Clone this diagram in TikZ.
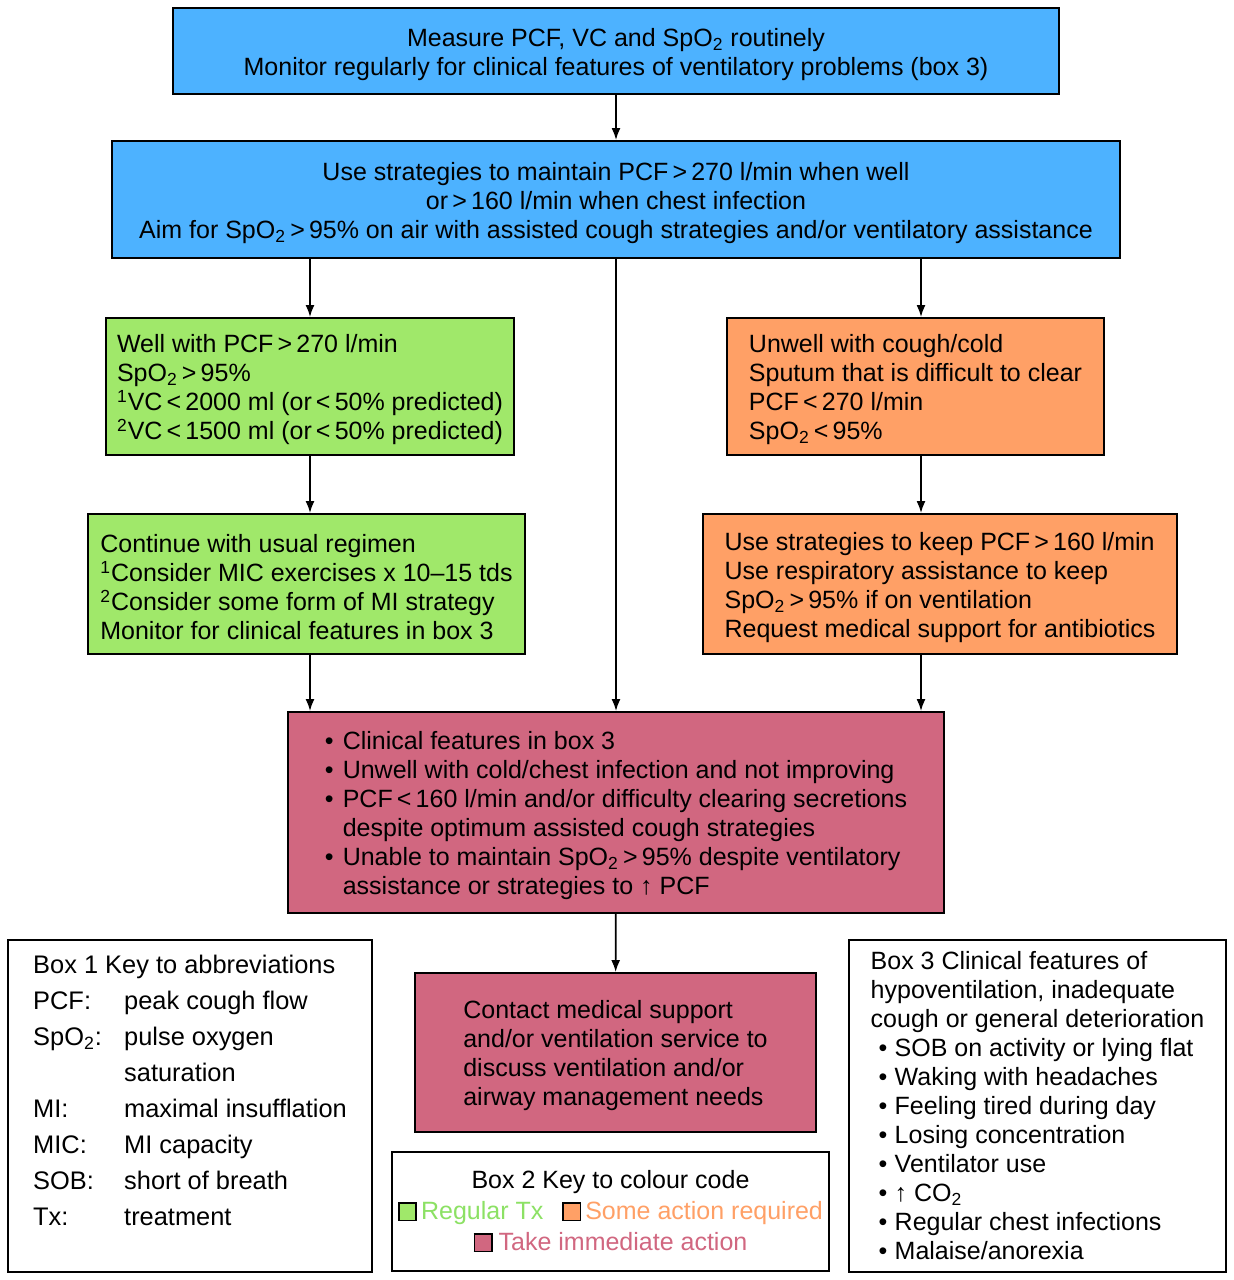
\documentclass[tikz,border=0pt]{standalone}
\usepackage{fontspec}
\setmainfont{Liberation Sans}
\usetikzlibrary{arrows.meta,positioning}

\definecolor{boxblue}{RGB}{77,178,255}
\definecolor{boxgreen}{RGB}{160,232,106}
\definecolor{boxorange}{RGB}{255,160,102}
\definecolor{boxpink}{RGB}{209,103,128}
\definecolor{keygreen}{RGB}{140,225,100}

\newcommand\topstrut{\rule{0pt}{12.5pt}}
\newcommand\bul{\makebox[9pt][l]{•}}
\newcommand\kbul{\hspace*{4pt}\makebox[8pt][l]{•}}
\newcommand\swatch[1]{{\setlength\fboxsep{0pt}\setlength\fboxrule{0.9pt}%
  \fcolorbox{black}{#1}{\rule{0pt}{7.7pt}\rule{7.7pt}{0pt}}}}

\tikzset{
  box/.style={draw, line width=1pt, inner sep=0pt, align=left,
    font=\fontsize{12.5}{14.5}\selectfont},
  bluebox/.style={box, fill=boxblue, align=center},
  greenbox/.style={box, fill=boxgreen},
  orangebox/.style={box, fill=boxorange},
  pinkbox/.style={box, fill=boxpink},
  keybox/.style={box, fill=white},
  arr/.style={-{Latex[length=6pt,width=4.5pt]}, line width=0.8pt},
}

\begin{document}
\begin{tikzpicture}[x=0.5pt,y=-0.5pt]
  \useasboundingbox (0,0) rectangle (1234,1280);
  % flow boxes
  \node[bluebox, minimum width=443pt, minimum height=43pt] (measure) at (616,51)
    {\topstrut Measure PCF, VC and SpO\textsubscript{2} routinely\\
     Monitor regularly for clinical features of ventilatory problems (box 3)};
  \node[bluebox, minimum width=504pt, minimum height=58.5pt] (aim) at (616,199.5)
    {\topstrut Use strategies to maintain PCF\,>\,270 l/min when well\\
     or\,>\,160 l/min when chest infection\\
     Aim for SpO\textsubscript{2}\,>\,95\% on air with assisted cough strategies and/or ventilatory assistance};
  \node[greenbox, minimum width=204pt, minimum height=68.5pt] (well) at (310,386.5)
    {\topstrut Well with PCF\,>\,270 l/min\\
     SpO\textsubscript{2}\,>\,95\%\\
     \textsuperscript{1}VC\,<\,2000 ml (or\,<\,50\% predicted)\\
     \textsuperscript{2}VC\,<\,1500 ml (or\,<\,50\% predicted)};
  \node[greenbox, minimum width=218.5pt, minimum height=70pt] (usual) at (306.5,584)
    {\topstrut Continue with usual regimen\\
     \textsuperscript{1}Consider MIC exercises x 10--15 tds\\
     \textsuperscript{2}Consider some form of MI strategy\\
     Monitor for clinical features in box 3};
  \node[orangebox, minimum width=188.5pt, minimum height=68.5pt] (unwell) at (915.5,386.5)
    {\topstrut Unwell with cough/cold\\
     Sputum that is difficult to clear\\
     PCF\,<\,270 l/min\\
     SpO\textsubscript{2}\,<\,95\%};
  \node[orangebox, minimum width=237pt, minimum height=70pt] (keep) at (940,584)
    {\topstrut Use strategies to keep PCF\,>\,160 l/min\\
     Use respiratory assistance to keep\\
     SpO\textsubscript{2}\,>\,95\% if on ventilation\\
     Request medical support for antibiotics};
  \node[pinkbox, minimum width=328pt, minimum height=100.5pt] (features) at (616,812.5)
    {\topstrut\bul Clinical features in box 3\\
     \bul Unwell with cold/chest infection and not improving\\
     \bul PCF\,<\,160 l/min and/or difficulty clearing secretions\\
     \hspace*{9pt}despite optimum assisted cough strategies\\
     \bul Unable to maintain SpO\textsubscript{2}\,>\,95\% despite ventilatory\\
     \hspace*{9pt}assistance or strategies to ↑ PCF};
  \node[pinkbox, minimum width=200.5pt, minimum height=79.5pt] (contact) at (615.5,1052.5)
    {\topstrut Contact medical support\\
     and/or ventilation service to\\
     discuss ventilation and/or\\
     airway management needs};
  % key boxes
  \node[keybox, minimum width=182pt, minimum height=166pt, font=\fontsize{12.7}{18}\selectfont]
    (abbrev) at (190,1106)
    {\raisebox{7pt}[\height][\depth]{\begin{tabular}{@{}p{45.5pt}@{}l@{}}
      \multicolumn{2}{@{}l@{}}{Box 1 Key to abbreviations}\\
      PCF: & peak cough flow\\
      SpO\textsubscript{2}: & pulse oxygen\\
       & saturation\\
      MI: & maximal insufflation\\
      MIC: & MI capacity\\
      SOB: & short of breath\\
      Tx: & treatment
    \end{tabular}}};
  \node[keybox, align=center, minimum width=218.5pt, minimum height=59.5pt,
    font=\fontsize{12.5}{15.5}\selectfont] (colour) at (610.5,1211.5)
    {Box 2 Key to colour code\\
     \swatch{boxgreen}\hspace{2pt}{\color{keygreen}Regular Tx}\hspace{9.5pt}%
     \swatch{boxorange}\hspace{2pt}{\color{boxorange}Some action required}\\
     \swatch{boxpink}\hspace{3pt}{\color{boxpink}Take immediate action}};
  \node[keybox, minimum width=188.5pt, minimum height=166pt] (clinical) at (1037.5,1106)
    {Box 3 Clinical features of\\
     hypoventilation, inadequate\\
     cough or general deterioration\\
     \kbul SOB on activity or lying flat\\
     \kbul Waking with headaches\\
     \kbul Feeling tired during day\\
     \kbul Losing concentration\\
     \kbul Ventilator use\\
     \kbul ↑ CO\textsubscript{2}\\
     \kbul Regular chest infections\\
     \kbul Malaise/anorexia};
  % connectors
  \coordinate (lcol) at (310,0);
  \coordinate (mcol) at (616,0);
  \coordinate (rcol) at (921,0);
  \draw[arr] (measure) -- (aim);
  \draw[arr] (aim.south -| lcol) -- (well.north -| lcol);
  \draw[arr] (aim.south -| mcol) -- (features.north -| mcol);
  \draw[arr] (aim.south -| rcol) -- (unwell.north -| rcol);
  \draw[arr] (well.south -| lcol) -- (usual.north -| lcol);
  \draw[arr] (unwell.south -| rcol) -- (keep.north -| rcol);
  \draw[arr] (usual.south -| lcol) -- (features.north -| lcol);
  \draw[arr] (keep.south -| rcol) -- (features.north -| rcol);
  \draw[arr] (features) -- (contact);
\end{tikzpicture}
\end{document}
